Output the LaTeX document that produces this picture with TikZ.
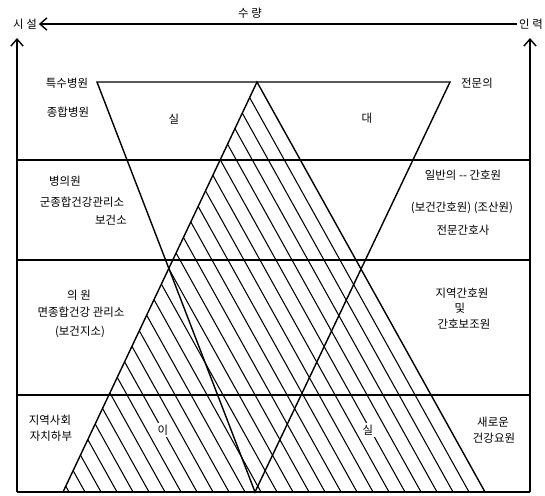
\documentclass[tikz,border=0pt]{standalone}
\usepackage{fontspec}
\newfontfamily\kr{Noto Sans CJK KR}
\usetikzlibrary{arrows.meta}

\begin{document}
\begin{tikzpicture}[x=0.02cm, y=-0.02cm,
  lbl/.style={font=\kr\fontsize{6.5}{8}\selectfont, inner sep=1pt},
  edge/.style={line width=0.8pt},
  hatch/.style={line width=0.6pt},
  arr/.style={line width=0.8pt, -{Straight Barb[length=4pt,width=7pt]}}
]
  \useasboundingbox (0,0) rectangle (545,495);

  % Axe du haut
  \node[lbl] (sis) at (25,24) {시 설};
  \node[lbl] (inr) at (531,24) {인 력};
  \node[lbl] (sur) at (250,13) {수 량};
  \draw[arr, {Straight Barb[length=4pt,width=7pt]}-] (sis) -- (inr);

  % Cadre
  \coordinate (bl) at (17,492);
  \coordinate (tl) at (17,38);
  \coordinate (br) at (530,492);
  \coordinate (tr) at (530,38);
  \draw[arr] (bl) -- (tl);
  \draw[arr] (br) -- (tr);
  \draw[edge] (bl) -- (br);
  \foreach \y in {160,260,395}
    \draw[edge] (17,\y) -- (530,\y);

  % Triangles
  \coordinate (up) at (257,82);
  \coordinate (upl) at (63,492);
  \coordinate (upr) at (485,492);
  \coordinate (dnl) at (97,82);
  \coordinate (dnr) at (450,82);
  \coordinate (dn) at (255,492);
  \begin{scope}
    \clip (up) -- (upl) -- (upr) -- cycle;
    \foreach \k in {1,...,26}
      \draw[hatch] (257-16*\k,82) -- ++(228,410);
  \end{scope}
  \draw[edge] (upl) -- (up) -- (upr);
  \draw[edge] (dnl) -- (dnr) -- (dn) -- cycle;

  % Textes
  \node[lbl] (t1a) at (67,83) {특수병원};
  \node[lbl] (t1b) at (68,112) {종합병원};
  \node[lbl] (t1c) at (477,83) {전문의};
  \node[lbl] (sil) at (174,119) {실};
  \node[lbl] (dae) at (367,118) {대};

  \node[lbl] (t2a) at (65,181) {병의원};
  \node[lbl] (t2b) at (82,202) {군종합건강관리소};
  \node[lbl] (t2c) at (111,220) {보건소};
  \node[lbl] (t2d) at (463,175) {일반의 -- 간호원};
  \node[lbl] (t2e) at (462,208) {(보건간호원) (조산원)};
  \node[lbl] (t2f) at (463,230) {전문간호사};

  \node[lbl] (t3a) at (79,295) {의 원};
  \node[lbl] (t3b) at (81,312) {면종합건강 관리소};
  \node[lbl] (t3c) at (80,332) {(보건지소)};
  \node[lbl] (t3d) at (462,293) {지역간호원};
  \node[lbl] (t3e) at (460,308) {및};
  \node[lbl] (t3f) at (464,324) {간호보조원};

  \node[lbl] (t4a) at (50,420) {지역사회};
  \node[lbl] (t4b) at (51,436) {자치하부};
  \node[lbl, fill=white] (i) at (163,430) {이};
  \node[lbl, fill=white] (sil2) at (368,430) {실};
  \node[lbl] (t4c) at (493,422) {새로운};
  \node[lbl] (t4d) at (494,438) {건강요원};
\end{tikzpicture}
\end{document}
